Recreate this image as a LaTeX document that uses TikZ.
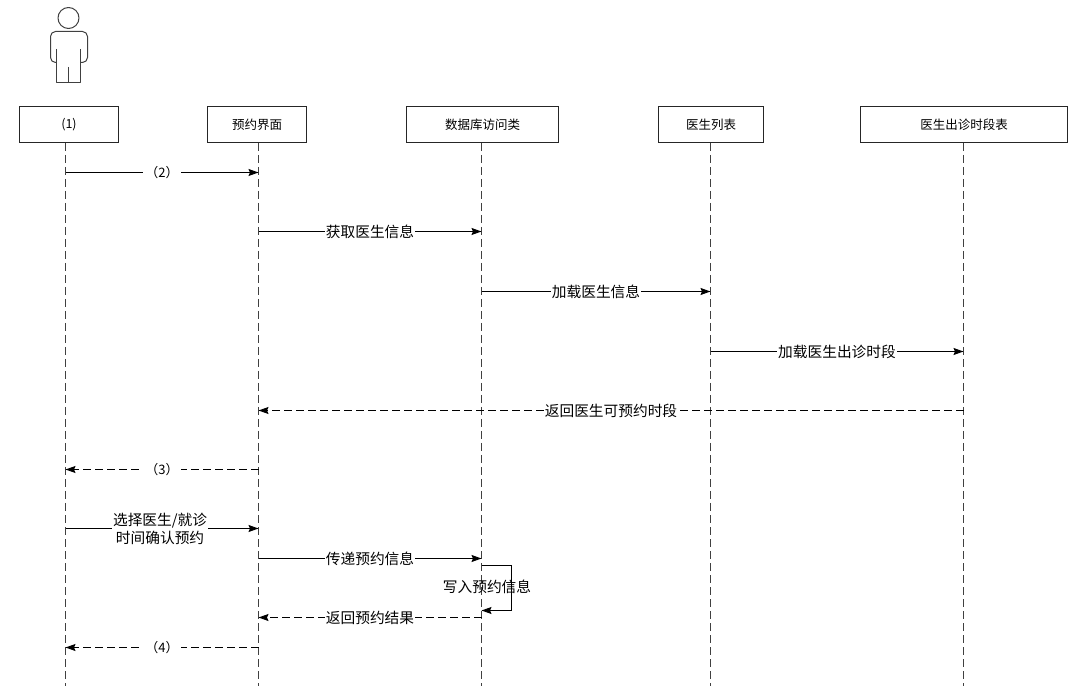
\documentclass[tikz,border=0pt]{standalone}
\usepackage{fontspec}
\setmainfont{Noto Sans CJK SC}
\usetikzlibrary{arrows.meta}
\begin{document}
\begin{tikzpicture}[
            x=1pt,
            y=-1pt,
            box/.style={draw=black!85, line width=1pt, minimum height=36pt, inner sep=0pt, font=\fontsize{12.5}{14}\selectfont},
            lifeline/.style={black!75, line width=1pt, dash pattern=on 8pt off 4pt},
            msg/.style={line width=1pt, -{Stealth[length=10pt,width=7pt,inset=1.5pt]}},
            back/.style={msg, dash pattern=on 8pt off 4pt},
            lbl/.style={fill=white, inner sep=1pt, align=center, font=\fontsize{14.7}{18}\selectfont},
            num/.style={fill=white, inner sep=2pt, font=\fontsize{13}{15}\selectfont}
        ]
        \useasboundingbox (0,0) rectangle (1074,700);

        \node[box, minimum width=99pt] (user) at (69,124.5) {(1)};
        \node[box, minimum width=99pt] (form) at (257,124.5) {预约界面};
        \node[box, minimum width=152pt] (dao) at (482.5,124.5) {数据库访问类};
        \node[box, minimum width=105pt] (doctor) at (711,124.5) {医生列表};
        \node[box, minimum width=207pt] (sched) at (964,124.5) {医生出诊时段表};

        \coordinate (L1) at (65.5,143);
        \coordinate (L2) at (258.5,143);
        \coordinate (L3) at (481.5,143);
        \coordinate (L4) at (710.5,143);
        \coordinate (L5) at (963.5,143);
        \foreach \i in {1,...,5} {
            \draw[lifeline] (L\i) -- (L\i |- 0,686);
        }

        \draw[msg] (L1 |- 0,172.5) -- (L2 |- 0,172.5) node[num, midway] {（2）};
        \draw[msg] (L2 |- 0,231.5) -- (L3 |- 0,231.5) node[lbl, midway] {获取医生信息};
        \draw[msg] (L3 |- 0,291.5) -- (L4 |- 0,291.5) node[lbl, midway] {加载医生信息};
        \draw[msg] (L4 |- 0,351.5) -- (L5 |- 0,351.5) node[lbl, midway] {加载医生出诊时段};
        \draw[back] (L5 |- 0,410.5) -- (L2 |- 0,410.5) node[lbl, midway] {返回医生可预约时段};
        \draw[back] (L2 |- 0,469.5) -- (L1 |- 0,469.5) node[num, midway] {（3）};
        \draw[msg] (L1 |- 0,528.5) -- (L2 |- 0,528.5) node[lbl, pos=0.49] {选择医生/就诊\\时间确认预约};
        \draw[msg] (L2 |- 0,558.5) -- (L3 |- 0,558.5) node[lbl, midway] {传递预约信息};
        \draw[msg] (L3 |- 0,565.5) -- (511.5,565.5) -- (511.5,610.5) -- (L3 |- 0,610.5);
        \node[font=\fontsize{14.7}{18}\selectfont] (write) at (487,587) {写入预约信息};
        \draw[back] (L3 |- 0,617.5) -- (L2 |- 0,617.5) node[lbl, midway] {返回预约结果};
        \draw[back] (L2 |- 0,647.5) -- (L1 |- 0,647.5) node[num, midway] {（4）};

        % actor
        \begin{scope}[black!75, line width=1pt, line join=round]
            \draw (68.5,18) circle (10.5);
            \draw[rounded corners=5pt] (56.5,62.5) -- (50.5,62.5) -- (50.5,31.5) -- (87.5,31.5) -- (87.5,62.5) -- (80.5,62.5);
            \draw (56.5,49) -- (56.5,82.5) -- (80.5,82.5) -- (80.5,49);
            \draw (68.5,67) -- (68.5,82.5);
        \end{scope}
    \end{tikzpicture}
\end{document}
